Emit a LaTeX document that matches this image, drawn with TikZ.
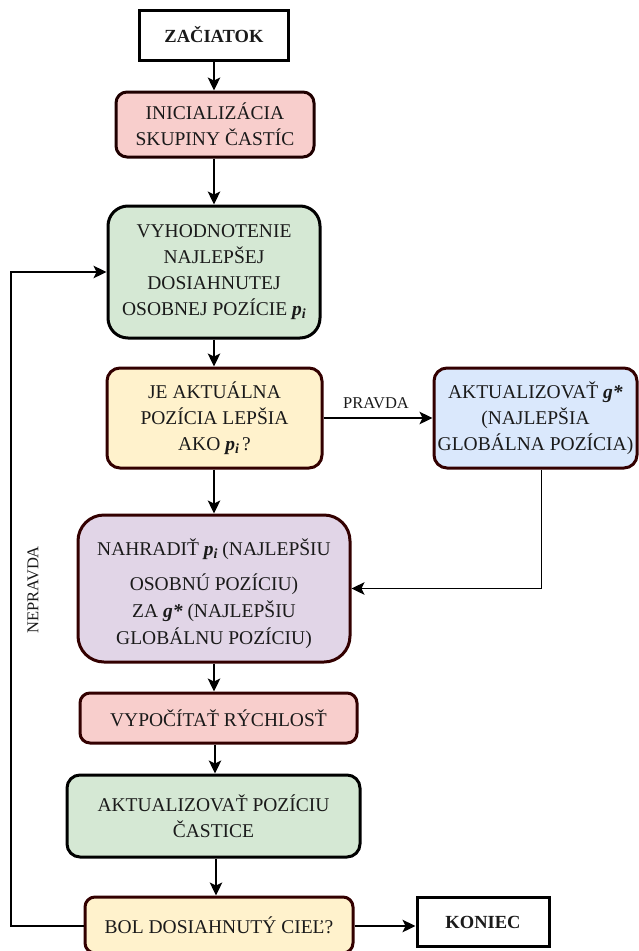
\documentclass[tikz,border=0pt]{standalone}
\usepackage{fontspec}
\setmainfont{Liberation Serif}
\usetikzlibrary{arrows.meta}

\definecolor{txt}{HTML}{1A1A1A}
\definecolor{edgebrown}{HTML}{330000}
\definecolor{fillpink}{HTML}{F8CECC}
\definecolor{fillgreen}{HTML}{D5E8D4}
\definecolor{fillyellow}{HTML}{FFF2CC}
\definecolor{fillblue}{HTML}{DAE8FC}
\definecolor{fillpurple}{HTML}{E1D5E7}

% bold italic symbols used in the labels
\newcommand\pvar{\textbf{\textit{p}}\raisebox{-0.35ex}{\fontsize{14}{14}\selectfont\textbf{\textit{i}}}}
\newcommand\gvar{\textbf{\textit{g*}}}

\tikzset{
  base/.style={draw, line width=3pt, align=center, text=txt,
    font=\fontsize{19.5}{26}\selectfont, inner sep=0pt},
  terminal/.style={base, draw=black, fill=white,
    font=\fontsize{18.5}{22}\selectfont\bfseries},
  stepbox/.style={base, rounded corners=#1},
  stepbox/.default=11pt,
  boxtext/.style={align=center, text=txt, inner sep=0pt,
    font=\fontsize{19.5}{27}\selectfont},
  flow/.style={draw=black, line width=1.6pt,
    -{Stealth[length=13pt,width=12.5pt,inset=3pt]}},
  lbl/.style={text=txt, font=\fontsize{16.5}{19}\selectfont, inner sep=0pt}
}

\begin{document}
\begin{tikzpicture}[x=1pt, y=-1pt]
\useasboundingbox (0,0) rectangle (638,951);

% process boxes
\node[terminal, minimum width=149pt, minimum height=50pt] (start) at (214,35) {ZAČIATOK};
\node[stepbox, draw=edgebrown!60!black, fill=fillpink, minimum width=198pt, minimum height=65pt] (init) at (215,124.5)
  {INICIALIZÁCIA\\SKUPINY ČASTÍC};
\node[stepbox=20pt, draw=black, fill=fillgreen, minimum width=212pt, minimum height=132pt] (eval) at (214,272)
  {VYHODNOTENIE\\NAJLEPŠEJ\\DOSIAHNUTEJ\\OSOBNEJ POZÍCIE \pvar};
\node[stepbox=13pt, draw=edgebrown, fill=fillyellow, minimum width=215pt, minimum height=100pt] (cond) at (214.5,418)
  {JE AKTUÁLNA\\POZÍCIA LEPŠIA\\AKO \pvar\,?};
\node[stepbox=13pt, draw=edgebrown, fill=fillblue, minimum width=203pt, minimum height=100pt] (upd) at (535.5,418)
  {AKTUALIZOVAŤ \gvar\\(NAJLEPŠIA\\GLOBÁLNA POZÍCIA)};
\node[stepbox=26pt, draw=edgebrown, fill=fillpurple, minimum width=272pt, minimum height=147pt] (repl) at (214,588.5) {};
\node[boxtext] (repltext) at (214,594)
  {NAHRADIŤ \pvar\ (NAJLEPŠIU\\[8pt]OSOBNÚ POZÍCIU)\\ZA \gvar\ (NAJLEPŠIU\\GLOBÁLNU POZÍCIU)};
\node[stepbox=10pt, draw=edgebrown, fill=fillpink, minimum width=277pt, minimum height=50pt] (vel) at (218.5,718)
  {VYPOČÍTAŤ RÝCHLOSŤ};
\node[stepbox=13pt, draw=black, fill=fillgreen, minimum width=293pt, minimum height=82pt] (pos) at (213.5,816)
  {AKTUALIZOVAŤ POZÍCIU\\ČASTICE};
\node[stepbox=10pt, draw=edgebrown, fill=fillyellow, minimum width=268pt, minimum height=56pt] (goal) at (219,925)
  {BOL DOSIAHNUTÝ CIEĽ?};
\node[terminal, minimum width=132pt, minimum height=49pt] (end) at (483,922) {KONIEC};

% main flow
\draw[flow] (start.south -| 214,0) -- (214,0 |- init.north);
\draw[flow] (init.south -| 214,0) -- (eval.north);
\draw[flow] (eval.south) -- (214,0 |- cond.north);
\draw[flow] (cond.south -| 214,0) -- (repl.north);
\draw[flow] (repl.south) -- (214,0 |- vel.north);
\draw[flow] (vel.south -| 215,0) -- (215,0 |- pos.north);
\draw[flow] (pos.south -| 216,0) -- (216,0 |- goal.north);

% true branch
\draw[flow] (cond.east) -- node[lbl, above=8pt, xshift=-2pt] {PRAVDA} (upd.west);
\coordinate (updout) at ([xshift=6pt]upd.south);
\draw[flow] (updout) |- (repl.east);

% exit
\draw[flow] (goal.east |- 0,926) -- (end.west |- 0,926);

% false branch back to evaluation
\coordinate (loopcorner) at (11,926);
\draw[flow] (goal.west |- 0,926) -- (loopcorner) |- (eval.west);
\node[lbl, rotate=90] (nlabel) at (33,590) {NEPRAVDA};
\end{tikzpicture}
\end{document}
